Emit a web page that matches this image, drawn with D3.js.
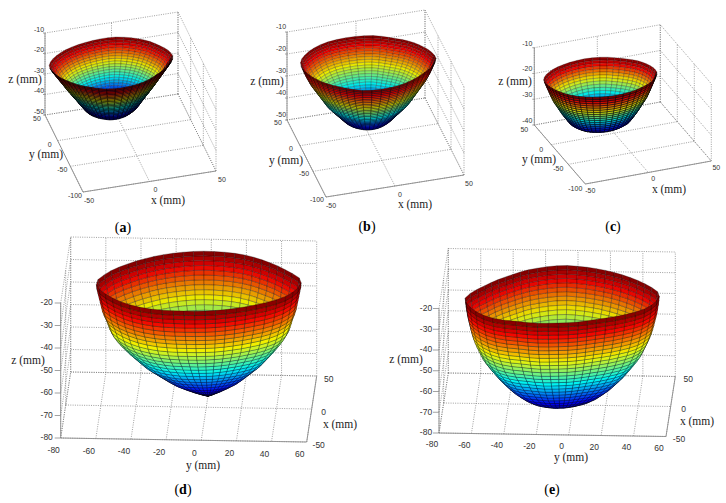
<!DOCTYPE html>
<html>
<head>
<meta charset="utf-8">
<script src="https://cdn.jsdelivr.net/npm/d3@7"></script>
<style>
  html, body { margin: 0; background: #fff; }
  .tick { font-family: "Liberation Sans", Arial, sans-serif; fill: #333; text-anchor: middle; dominant-baseline: middle; }
  .axisName { font-family: "Liberation Serif", serif; font-size: 11.5px; fill: #222; text-anchor: middle; dominant-baseline: middle; }
  .caption { font-family: "Liberation Serif", serif; font-size: 14px; fill: #000; text-anchor: middle; dominant-baseline: middle; }
</style>
</head>
<body>
<div id="chart"></div>
<script>
// Tick values of each plot
var xTicksTop = [-50, 0, 50];
var yTicksTop = [50, 0, -50, -100];
var zTicksA = [-10, -20, -30, -40, -50];
var zTicksC = [-10, -20, -30, -40];
var xTicksBottom = [-50, 0, 50];
var yTicksBottom = [-80, -60, -40, -20, 0, 20, 40, 60];
var zTicksBottom = [-20, -30, -40, -50, -60, -70, -80];

// Rim radius in mm, one value every 7.5 degrees
var rimA = [44.5,43.8,43,42.4,42.4,42.8,43.2,43.7,44.3,45,45.7,45.6,45.2,44.8,44.6,44.6,44.7,44.9,45.1,45.4,45.8,46.1,46.2,45.6,
  44.8,44,43.4,43,43,43.4,44.2,45,46,47.6,49.2,49.8,49.6,49,48.3,47.2,45.8,44.8,44.4,44.4,44.6,44.9,45.2,45.2];
var rimB = [46,44.9,44,43.5,43.4,43.4,43.5,43.8,44.8,46.5,48.2,49.3,50.1,50.8,51.5,52,52,51.6,51,50.5,49.9,49,47.8,46.4,
  45.2,44.2,43.6,43.4,43.6,44,44.8,45.6,47,49,51.2,52.3,52.6,52.6,52.4,51.6,50.6,49.6,49,49,49,48.9,48.6,47.4];
var rimC = [42,41.4,41,41,41,41,41.2,41.8,42.7,44.2,45.3,45.9,46.4,46.3,46.1,45.8,45.6,45.3,44.9,44.6,44.2,43.6,42.6,41.4,
  40.4,39.8,39.6,39.8,40.2,41,42,42.8,43.6,44.6,45.6,46.2,46.6,46.5,46.2,46,45.5,45.2,45,44.6,44.2,43.8,43.4,42.6];
var rimD = [45.5,45.6,46,46.5,47,47.4,47.8,48.6,50,51.5,54,57,58,57.3,56,54.5,52.5,50.5,48.5,47.2,46.3,45.8,45.5,45.4,
  45.5,46,47,48.5,50,51.5,52.8,54,55.2,56.5,58,58.6,57.6,55,52.8,50.5,48.6,47.3,46.3,45.7,45.3,45,45,45.2];
var rimE = [49,48.5,48.2,48,48.2,48.6,49.2,50.3,51.8,53.6,56,58.6,59.6,59,57.6,56,53.6,51,49,47.3,46.2,46,46.2,46.6,
  47,48,49.5,50.8,52.2,55,57.5,59,59.8,60.3,60.6,60.2,57,53.5,50.6,48.8,47.5,46.5,46.2,46.5,47,47.4,48,48.6];

// Depth levels in mm, and the share of the rim radius left at each level
var levelsA = [-25,-26,-27,-28,-29,-30,-31,-32,-33,-34,-35,-36,-37,-38,-39,-40,-41,-42,-43,-44,-45,-46,-47,-48,-48.6];
var shareA = [1,.975,.95,.925,.9,.875,.85,.825,.8,.775,.75,.725,.7,.67,.645,.62,.59,.565,.54,.51,.485,.46,.43,.39,0];
var levelsB = [-22,-23,-24,-25,-26,-27,-28,-29,-30,-31,-32,-33,-34,-35,-36,-37,-38,-39,-40,-41,-42,-43,-44,-45,-46,-47,-48,-49,-50];
var shareB = [1,.985,.97,.955,.94,.925,.905,.888,.87,.846,.822,.798,.774,.75,.726,.702,.678,.654,.63,.6,.565,.53,.495,.46,.425,.39,.355,.3,0];
var levelsC = [-22,-23,-24,-25,-26,-27,-28,-29,-30,-31,-32,-33,-34,-35,-36,-37,-38,-39,-40,-40.5];
var shareC = [1,.98,.96,.94,.92,.9,.88,.858,.835,.805,.775,.745,.715,.685,.65,.615,.58,.54,.45,0];
var levelsD = [-24,-26,-28,-30,-32,-34,-36,-38,-40,-42,-44,-46,-48,-50,-52,-54,-56,-58,-60,-62,-64,-66,-68,-70,-72,-74,-75];
var shareD = [1,.995,.985,.975,.965,.955,.945,.93,.91,.895,.88,.86,.83,.795,.755,.715,.67,.625,.58,.52,.46,.4,.335,.25,.16,.06,0];
var levelsE = [-27,-29,-31,-33,-35,-37,-39,-41,-43,-45,-47,-49,-51,-53,-55,-57,-59,-61,-63,-65,-67,-69,-71,-73,-75,-77,-79,-80];
var shareE = [1,.995,.99,.983,.976,.966,.955,.945,.933,.92,.903,.884,.863,.842,.82,.79,.757,.722,.686,.65,.607,.563,.517,.46,.4,.32,.2,0];

var jet = ["#00007f", "#0000ff", "#007fff", "#00ffff", "#7fff7f", "#ffff00", "#ff7f00", "#ff0000", "#7f0000"];

// Where each box sits on the page
var panels = [
  { caption: "a", origin: [45, 115], xVec: [133, -21], yVec: [38, 77], zVec: [0, -82],
    xDom: [-50, 50], yDom: [50, -100], zDom: [-50, -10], xTicks: xTicksTop, yTicks: yTicksTop, zTicks: zTicksA,
    rim: rimA, levels: levelsA, share: shareA, centre: [-3, 34], tip: 0,
    zOff: [-6, -3], yOff: [-8, 4], xOff: [6, 9], font: 7, tickLen: 2, cellEdge: 0.55,
    zName: [25, 80], yName: [46, 155], xName: [168, 201], capPos: [123, 229], outerDark: 0.9, outerEdge: 0.95, innerEdge: 0.4 },
  { caption: "b", origin: [287, 120], xVec: [138, -22], yVec: [39, 77], zVec: [0, -88],
    xDom: [-50, 50], yDom: [50, -100], zDom: [-50, -10], xTicks: xTicksTop, yTicks: yTicksTop, zTicks: zTicksA,
    rim: rimB, levels: levelsB, share: shareB, centre: [3, 20], tip: 0,
    zOff: [-6, -5], yOff: [-9, 3], xOff: [5, 9], font: 7, tickLen: 2, cellEdge: 0.5,
    zName: [267, 82], yName: [286, 161], xName: [415, 205], capPos: [367, 228], outerDark: 0.45, outerEdge: 0.7, innerEdge: 0.4 },
  { caption: "c", origin: [534.3, 125], xVec: [126, -23], yVec: [51, 59], zVec: [0, -77.3],
    xDom: [-50, 50], yDom: [50, -100], zDom: [-40, -10], xTicks: xTicksTop, yTicks: yTicksTop, zTicks: zTicksC,
    rim: rimC, levels: levelsC, share: shareC, centre: [-4, 27], tip: 0,
    zOff: [-7, -4], yOff: [-10, 5], xOff: [5, 7], font: 7, tickLen: 2, cellEdge: 0.55,
    zName: [515, 82], yName: [539, 160], xName: [669, 190], capPos: [613, 228], outerDark: 0.6, outerEdge: 0.9, innerEdge: 0.4 },
  { caption: "d", origin: [60.7, 438], xVec: [10, -66], yVec: [246, 4], zVec: [0, -135],
    xDom: [-50, 50], yDom: [-80, 60], zDom: [-80, -20], xTicks: xTicksBottom, yTicks: yTicksBottom, zTicks: zTicksBottom,
    rim: rimD, levels: levelsD, share: shareD, centre: [0, -4], tip: 5,
    zOff: [-14, 0], yOff: [-7, 13], xOff: [12, 4], font: 8.5, tickLen: 6, cellEdge: 0.45,
    zName: [28, 361], yName: [203, 466], xName: [340, 425], capPos: [183, 491], outerDark: 0.15, outerEdge: 0.6, innerEdge: 0.6 },
  { caption: "e", origin: [439, 433], xVec: [9.3, -60], yVec: [227, 3.5], zVec: [0, -124.5],
    xDom: [-50, 50], yDom: [-80, 60], zDom: [-80, -20], xTicks: xTicksBottom, yTicks: yTicksBottom, zTicks: zTicksBottom,
    rim: rimE, levels: levelsE, share: shareE, centre: [0, -6.6], tip: -1.5,
    zOff: [-13, 0], yOff: [-7, 12], xOff: [13, 3], font: 8.5, tickLen: 6, cellEdge: 0.45,
    zName: [406, 360], yName: [571, 458], xName: [697, 422], capPos: [552, 491], outerDark: 0.15, outerEdge: 0.6, innerEdge: 0.6 }
];

var svg = d3.select("#chart").append("svg")
  .attr("width", 726)
  .attr("height", 503);

var jetColor = d3.piecewise(d3.interpolateRgb, jet);
var closedPath = d3.line().curve(d3.curveLinearClosed);

panels.forEach(function(p) {
  var group = svg.append("g");

  // One scale per axis, 0 to 1 along the edge of the box
  var tx = d3.scaleLinear().domain(p.xDom).range([0, 1]);
  var ty = d3.scaleLinear().domain(p.yDom).range([0, 1]);
  var tz = d3.scaleLinear().domain(p.zDom).range([0, 1]);

  function project(x, y, z) {
    return [
      p.origin[0] + tx(x) * p.xVec[0] + ty(y) * p.yVec[0] + tz(z) * p.zVec[0],
      p.origin[1] + tx(x) * p.xVec[1] + ty(y) * p.yVec[1] + tz(z) * p.zVec[1]
    ];
  }

  function edge(cls, a, b) {
    var from = project(a[0], a[1], a[2]);
    var to = project(b[0], b[1], b[2]);
    group.append("line")
      .attr("x1", from[0]).attr("y1", from[1])
      .attr("x2", to[0]).attr("y2", to[1])
      .attr("stroke", cls == "grid" ? "#777" : "#8c8c8c")
      .attr("stroke-width", cls == "grid" ? 0.7 : 0.9)
      .attr("stroke-dasharray", cls == "grid" ? "1,1.3" : null);
  }

  var x0 = p.xDom[0], x1 = p.xDom[1], y0 = p.yDom[0], y1 = p.yDom[1], z0 = p.zDom[0], z1 = p.zDom[1];

  // Floor and the two back walls
  p.xTicks.forEach(function(x) {
    edge("grid", [x, y0, z0], [x, y1, z0]);
    edge("grid", [x, y0, z0], [x, y0, z1]);
  });
  p.yTicks.forEach(function(y) {
    edge("grid", [x0, y, z0], [x1, y, z0]);
    edge("grid", [x1, y, z0], [x1, y, z1]);
  });
  p.zTicks.forEach(function(z) {
    edge("grid", [x0, y0, z], [x1, y0, z]);
    edge("grid", [x1, y0, z], [x1, y1, z]);
  });

  // Solid axes
  edge("axis", [x0, y0, z0], [x0, y0, z1]);
  edge("axis", [x0, y0, z0], [x0, y1, z0]);
  edge("axis", [x0, y1, z0], [x1, y1, z0]);

  // Tick marks and labels
  p.zTicks.forEach(function(z) {
    var pt = project(x0, y0, z);
    group.append("line").attr("x1", pt[0] - p.tickLen).attr("x2", pt[0]).attr("y1", pt[1]).attr("y2", pt[1])
      .attr("stroke", "#8c8c8c").attr("stroke-width", 0.8);
    group.append("text").attr("class", "tick").attr("font-size", p.font)
      .attr("x", pt[0] + p.zOff[0]).attr("y", pt[1] + p.zOff[1]).text(z);
  });
  p.yTicks.forEach(function(y) {
    var pt = project(x0, y, z0);
    group.append("text").attr("class", "tick").attr("font-size", p.font)
      .attr("x", pt[0] + p.yOff[0]).attr("y", pt[1] + p.yOff[1]).text(y);
  });
  p.xTicks.forEach(function(x) {
    var pt = project(x, y1, z0);
    group.append("text").attr("class", "tick").attr("font-size", p.font)
      .attr("x", pt[0] + p.xOff[0]).attr("y", pt[1] + p.xOff[1]).text(x);
  });

  // Ray direction of the picture, used to sort the cells back to front
  var r1 = [p.xVec[0] / (x1 - x0), p.yVec[0] / (y1 - y0), p.zVec[0] / (z1 - z0)];
  var r2 = [p.xVec[1] / (x1 - x0), p.yVec[1] / (y1 - y0), p.zVec[1] / (z1 - z0)];
  var ray = [
    r1[1] * r2[2] - r1[2] * r2[1],
    r1[2] * r2[0] - r1[0] * r2[2],
    r1[0] * r2[1] - r1[1] * r2[0]
  ];
  if (ray[2] < 0) ray = ray.map(function(v) { return -v; });

  // Bowl surface
  var nAngles = p.rim.length;
  var zColor = d3.scaleLinear().domain([d3.min(p.levels), d3.max(p.levels)]).range([0, 1]);

  function surfacePoint(i, j) {
    var angle = (j % nAngles) / nAngles * 2 * Math.PI;
    var radius = p.rim[j % nAngles] * p.share[i];
    var shift = p.tip * (1 - p.share[i]);
    return [
      p.centre[0] + radius * Math.cos(angle),
      p.centre[1] + shift + radius * Math.sin(angle),
      p.levels[i]
    ];
  }

  var cells = [];
  for (var i = 0; i < p.levels.length - 1; i++) {
    for (var j = 0; j < nAngles; j++) {
      var corners = [surfacePoint(i, j), surfacePoint(i, j + 1), surfacePoint(i + 1, j + 1), surfacePoint(i + 1, j)];
      var mid = [d3.mean(corners, function(c) { return c[0]; }), d3.mean(corners, function(c) { return c[1]; }), d3.mean(corners, function(c) { return c[2]; })];
      var midAngle = (j + 0.5) / nAngles * 2 * Math.PI;
      cells.push({
        corners: corners,
        z: mid[2],
        depth: mid[0] * ray[0] + mid[1] * ray[1] + mid[2] * ray[2],
        outer: Math.cos(midAngle) * ray[0] + Math.sin(midAngle) * ray[1] > 0
      });
    }
  }
  cells.sort(function(a, b) { return d3.ascending(a.depth, b.depth); });

  group.append("g")
    .style("filter", "blur(0.3px)")
    .selectAll("path")
    .data(cells)
    .enter()
    .append("path")
    .attr("d", function(c) {
      return closedPath(c.corners.map(function(q) { return project(q[0], q[1], q[2]); }));
    })
    .attr("fill", function(c) {
      var col = d3.color(jetColor(zColor(c.z)));
      return (c.outer ? col.darker(p.outerDark) : col.darker(0.25)).formatRgb();
    })
    .attr("stroke", "#000")
    .attr("stroke-width", p.cellEdge)
    .attr("stroke-opacity", function(c) { return c.outer ? p.outerEdge : p.innerEdge; });

  // Axis names and caption
  group.append("text").attr("class", "axisName").attr("x", p.zName[0]).attr("y", p.zName[1]).text("z (mm)");
  group.append("text").attr("class", "axisName").attr("x", p.yName[0]).attr("y", p.yName[1]).text("y (mm)");
  group.append("text").attr("class", "axisName").attr("x", p.xName[0]).attr("y", p.xName[1]).text("x (mm)");

  var cap = group.append("text").attr("class", "caption").attr("x", p.capPos[0]).attr("y", p.capPos[1]);
  cap.append("tspan").text("(");
  cap.append("tspan").attr("font-weight", "bold").text(p.caption);
  cap.append("tspan").text(")");
});
</script>
</body>
</html>
